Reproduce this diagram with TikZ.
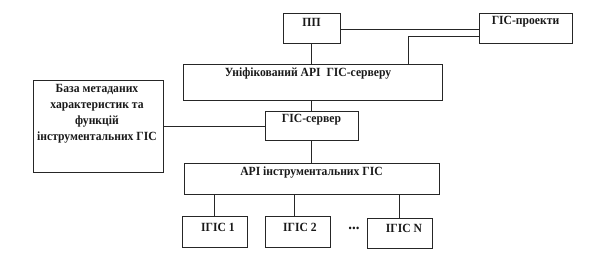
\documentclass[tikz,border=0pt]{standalone}
\usepackage{fontspec}
\setmainfont{Liberation Serif}[FakeStretch=0.93]
\begin{document}
\begin{tikzpicture}[x=1pt,y=-1pt,
  box/.style={draw=black!85, line width=1pt, inner sep=0pt, rectangle},
  txt/.style={font=\bfseries\fontsize{12.5}{15}\selectfont, inner sep=0pt, text=black!90},
  conn/.style={draw=black!85, line width=1pt}]
\useasboundingbox (0,0) rectangle (604,263);
% boxes
\node[box, minimum width=57pt, minimum height=30pt] (pp) at (311.5,28) {};
\node[box, minimum width=93pt, minimum height=30pt] (proj) at (525.5,28) {};
\node[box, minimum width=259pt, minimum height=36pt] (uni) at (312.5,82) {};
\node[box, minimum width=93pt, minimum height=29pt] (srv) at (311.5,125.5) {};
\node[box, minimum width=130pt, minimum height=92pt] (db) at (98,126) {};
\node[box, minimum width=255pt, minimum height=31pt] (api) at (311.5,178.5) {};
\node[box, minimum width=65pt, minimum height=31pt] (i1) at (214.5,231.5) {};
\node[box, minimum width=65pt, minimum height=31pt] (i2) at (297.5,231.5) {};
\node[box, minimum width=65pt, minimum height=30pt] (iN) at (399.5,233) {};
% texts
\node[txt] (tpp) at (311.5,22) {ПП};
\node[txt] (tproj) at (525.5,22) {ГІС-проекти};
\node[txt] (tuni) at (308,74) {Уніфікований API\ \ ГІС-серверу};
\node[txt] (tsrv) at (311.5,120) {ГІС-сервер};
\node[txt, align=center, font=\bfseries\fontsize{12.5}{16}\selectfont] (tdb) at (97,114) {База метаданих\\характеристик та\\функцій\\інструментальних ГІС};
\node[txt] (tapi) at (311.5,173) {API інструментальних ГІС};
\node[txt] (ti1) at (218,227) {ІГІС 1};
\node[txt] (ti2) at (300,227) {ІГІС 2};
\node[txt] (tiN) at (404,228) {ІГІС N};
\node[txt, font=\bfseries\fontsize{16}{18}\selectfont] (dots) at (354,228) {...};
% connectors
\coordinate (c1) at (408,36);
\draw[conn] (pp.east |- 0,29) -- (proj.west |- 0,29);
\draw[conn] (uni.north -| c1) -- (c1) -- (proj.west |- c1);
\draw[conn] (pp.south) -- (pp.south |- uni.north);
\draw[conn] (uni.south -| srv.north) -- (srv.north);
\draw[conn] (db.east) -- (srv.west |- db.east);
\draw[conn] (srv.south) -- (srv.south |- api.north);
\draw[conn] (api.south -| i1.north) -- (i1.north);
\draw[conn] (api.south -| 294,0) -- (i2.north -| 294,0);
\draw[conn] (api.south -| iN.north) -- (iN.north);
\end{tikzpicture}
\end{document}
